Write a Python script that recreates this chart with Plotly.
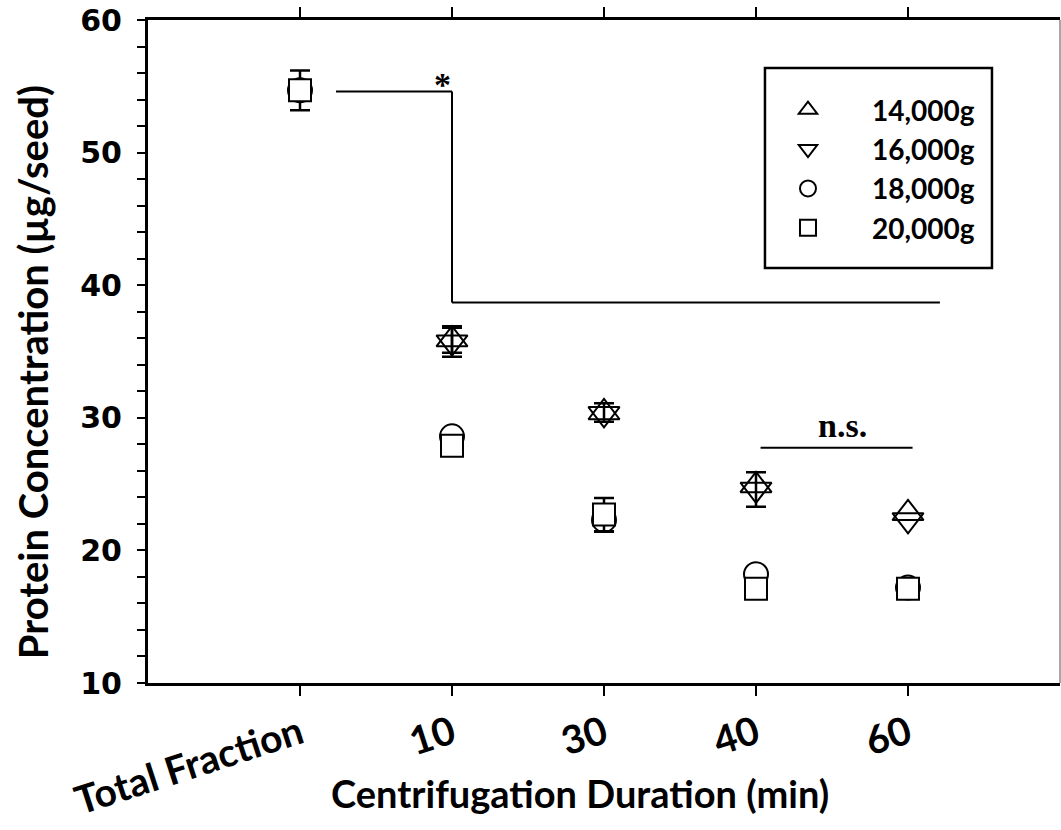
import plotly.graph_objects as go

# ---------------- data ----------------
categories = ["Total Fraction", "10", "30", "40", "60"]
series_names = ["14,000g", "16,000g", "18,000g", "20,000g"]

g14 = [None, 35.9, 30.4, 24.9, 22.8]
g14_err = [None, 1.0, 0.7, None, None]
g16 = [None, 35.7, 30.3, 24.6, 22.3]
g16_err = [None, 1.1, None, 1.3, None]
g18 = [54.7, 28.6, 22.3, 18.2, 17.2]
g18_err = [None, None, 0.9, None, None]
g20 = [54.7, 27.9, 22.7, 17.1, 17.1]
g20_err = [1.5, None, 1.25, None, None]

# significance brackets (category index, value)
star_bracket_x = [0.237, 1.0, 4.21]
star_bracket_y = [54.6, 38.7]
ns_bracket_x = [3.03, 4.03]
ns_bracket_y = 27.75

y_ticks = [10, 20, 30, 40, 50, 60]

# ---------------- styling ----------------
symbols = ["triangle-up-open", "triangle-down-open", "circle", "square"]
fills = ["black", "black", "white", "white"]
sizes = [27, 27, 24, 22]
values = [g14, g16, g18, g20]
errors = [g14_err, g16_err, g18_err, g20_err]

LABEL_FONT = "Lato"


def err_array(e):
    # "NaN" -> no error bar drawn for that point
    return [v if v is not None else "NaN" for v in e]


fig = go.Figure()
for name, sym, fc, sz, vals, errs in zip(series_names, symbols, fills, sizes, values, errors):
    fig.add_trace(go.Scatter(
        x=categories, y=vals, name=name, mode="markers",
        marker=dict(symbol=sym, size=sz, color=fc,
                    line=dict(color="black", width=2)),
        error_y=dict(type="data", array=err_array(errs), visible=True,
                     color="black", thickness=2.5, width=10),
        cliponaxis=False,
    ))

# brackets
fig.add_shape(type="line", xref="x", yref="y",
              x0=star_bracket_x[0], x1=star_bracket_x[1],
              y0=star_bracket_y[0], y1=star_bracket_y[0],
              line=dict(color="black", width=2))
fig.add_shape(type="line", xref="x", yref="y",
              x0=star_bracket_x[1], x1=star_bracket_x[1],
              y0=star_bracket_y[0], y1=star_bracket_y[1],
              line=dict(color="black", width=2))
fig.add_shape(type="line", xref="x", yref="y",
              x0=star_bracket_x[1], x1=star_bracket_x[2],
              y0=star_bracket_y[1], y1=star_bracket_y[1],
              line=dict(color="black", width=2))
fig.add_shape(type="line", xref="x", yref="y",
              x0=ns_bracket_x[0], x1=ns_bracket_x[1],
              y0=ns_bracket_y, y1=ns_bracket_y,
              line=dict(color="black", width=2))

fig.add_annotation(x=0.94, y=55.15, xref="x", yref="y", text="*",
                   showarrow=False, yanchor="middle",
                   font=dict(family="Liberation Serif", size=34, color="black", weight="bold"))
fig.add_annotation(x=3.572, y=29.4, xref="x", yref="y", text="n.s.",
                   showarrow=False, yanchor="middle",
                   font=dict(family="Liberation Serif", size=34, color="black", weight="bold"))

# right frame line (thin gray)
fig.add_shape(type="line", xref="paper", yref="paper", x0=1, x1=1, y0=0, y1=1,
              line=dict(color="#8a8a8a", width=1.5))

# legend box
fig.add_shape(type="rect", xref="paper", yref="paper",
              x0=0.6765, x1=0.9254, y0=0.6259, y1=0.9276,
              line=dict(color="black", width=2.5), fillcolor="rgba(0,0,0,0)")

# axis titles as annotations
fig.add_annotation(x=0.4737, y=-0.166, xref="paper", yref="paper",
                   text="Centrifugation Duration (min)", showarrow=False,
                   xanchor="center", yanchor="middle",
                   font=dict(family=LABEL_FONT, size=38, color="black", weight="bold"))
fig.add_annotation(x=-0.126, y=0.469, xref="paper", yref="paper",
                   text="Protein Concentration (µg/seed)", showarrow=False,
                   textangle=-90, xanchor="center", yanchor="middle",
                   font=dict(family=LABEL_FONT, size=40, color="black", weight="bold"))

fig.update_layout(
    width=1061, height=830,
    margin=dict(l=148, r=1, t=20, b=147),
    plot_bgcolor="white", paper_bgcolor="white",
    showlegend=True,
    legend=dict(x=0.6535, y=0.902, xanchor="left", yanchor="top",
                bgcolor="rgba(0,0,0,0)", borderwidth=0, itemwidth=118,
                font=dict(family=LABEL_FONT, size=28, color="black", weight="bold")),
    xaxis=dict(type="category", categoryorder="array", categoryarray=categories,
               range=[-1, 5], showgrid=False, zeroline=False,
               showline=True, linecolor="black", linewidth=3, mirror="ticks",
               ticks="outside", ticklen=10, tickwidth=2, tickcolor="black",
               tickangle=-18,
               tickfont=dict(family=LABEL_FONT, size=39, color="black", weight="bold")),
    yaxis=dict(range=[10, 60], tickvals=y_ticks, showgrid=False, zeroline=False,
               showline=True, linecolor="black", linewidth=3,
               ticks="outside", ticklen=8, tickwidth=2, tickcolor="black",
               ticklabelstandoff=9,
               minor=dict(dtick=2, tick0=10, ticks="outside", ticklen=8, tickwidth=2,
                          tickcolor="black", showgrid=False),
               tickfont=dict(family="DejaVu Sans", size=30, color="black", weight="bold")),
)

fig.write_html("out.html")
